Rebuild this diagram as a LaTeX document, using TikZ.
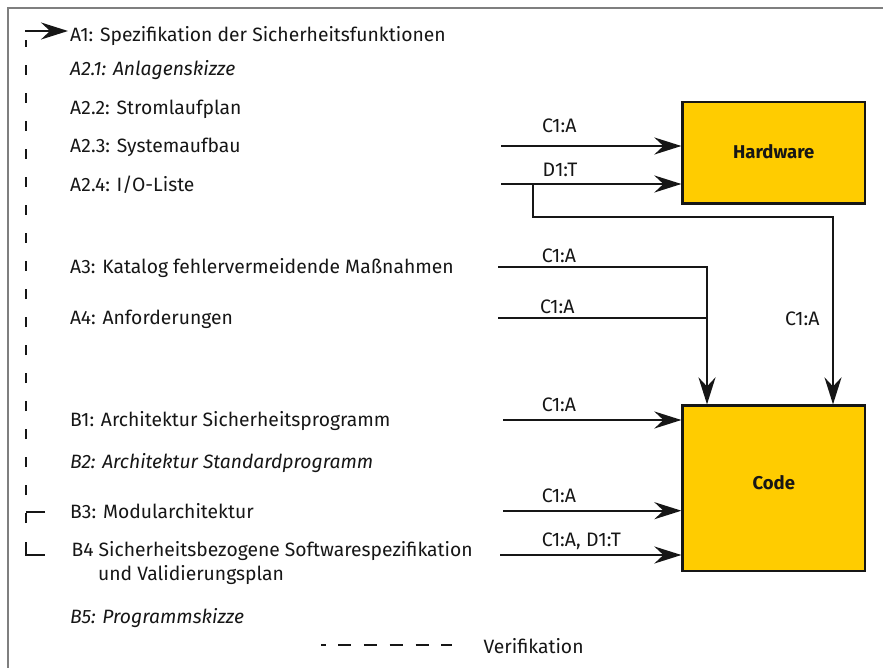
\documentclass[tikz,border=0pt]{standalone}
\usepackage{fontspec}
\setmainfont{Fira Sans}
\usetikzlibrary{arrows.meta}
\definecolor{boxfill}{HTML}{FFCC00}
\definecolor{framegray}{HTML}{7F7F7F}
\definecolor{ink}{HTML}{161616}

\begin{document}
\begin{tikzpicture}[x=1pt,y=-1pt,
  txt/.style={anchor=base west, inner sep=0pt, font=\fontsize{19.3}{22}\selectfont, text=ink},
  itxt/.style={txt, font=\fontsize{19.3}{22}\selectfont\itshape},
  lbl/.style={anchor=base west, inner sep=0pt, font=\fontsize{19.5}{22}\selectfont, text=ink},
  block/.style={draw=ink, line width=2.2pt, fill=boxfill, inner sep=0pt},
  blocklbl/.style={font=\fontsize{18.5}{22}\selectfont\bfseries, text=ink, inner sep=0pt},
  flow/.style={draw=ink, line width=2.3pt, -{Stealth[length=27pt,width=17pt,inset=9pt]}},
  wire/.style={draw=ink, line width=2.3pt},
  verif/.style={draw=ink, line width=2.8pt, dash pattern=on 10pt off 18pt},
]
\useasboundingbox (0,0) rectangle (883,668);

% open frame: left and top edges
\draw[framegray, line width=2pt] (8.3,668) -- (8.3,8.3) -- (883,8.3);

% work products
\node[txt]  (a1)  at (70,41.5)  {A1: Spezifikation der Sicherheitsfunktionen};
\node[itxt] (a21) at (70,76)    {A2.1: Anlagenskizze};
\node[txt]  (a22) at (70,115)   {A2.2: Stromlaufplan};
\node[txt]  (a23) at (70,152.5) {A2.3: Systemaufbau};
\node[txt]  (a24) at (70,191.5) {A2.4: I/O-Liste};
\node[txt]  (a3)  at (70,273.5) {A3: Katalog fehlervermeidende Maßnahmen};
\node[txt]  (a4)  at (70,324.5) {A4: Anforderungen};
\node[txt]  (b1)  at (70,426.5) {B1: Architektur Sicherheitsprogramm};
\node[itxt] (b2)  at (70,468)   {B2: Architektur Standardprogramm};
\node[txt]  (b3)  at (70,518)   {B3: Modularchitektur};
\node[txt]  (b4)  at (71.5,556.5) {B4 Sicherheitsbezogene Softwarespezifikation};
\node[txt]  (b4b) at (98,580)   {und Validierungsplan};
\node[itxt] (b5)  at (70,623)   {B5: Programmskizze};

% target blocks
\node[block, minimum width=182.5pt, minimum height=101.5pt] (hw) at (773.75,152.75) {};
\node[blocklbl] at ([yshift=1pt]hw.center) {Hardware};
\node[block, minimum width=182.5pt, minimum height=165.5pt] (code) at (773.75,488.25) {};
\node[blocklbl] at ([yshift=5.5pt]code.center) {Code};

% inputs to the hardware
\coordinate (hwA) at (501,146);
\coordinate (hwD) at (501,184);
\draw[flow] (hwA) -- (hwA -| hw.west);
\draw[flow] (hwD) -- (hwD -| hw.west);
\node[lbl] (lhwA) at (542,132.7) {C1:A};
\node[lbl] (lhwD) at (542.5,176.7) {D1:T};

% branch from the I/O list down to the code
\coordinate (br) at (533,184);
\coordinate (cR) at (833,217);
\draw[flow] (br) |- (cR) -- (cR |- code.north);
\node[lbl] (lcR) at (785,325) {C1:A};

% A3 and A4 merge into one input of the code
\coordinate (jn)  at (707,0);
\coordinate (a3s) at (498,267.3);
\coordinate (a4s) at (498,317.7);
\draw[flow] (a3s) -| (jn |- code.north);
\draw[wire] (a4s) -- (a4s -| jn);
\node[lbl] (la3) at (541.7,262.7) {C1:A};
\node[lbl] (la4) at (540,313.3) {C1:A};

% direct inputs to the code
\coordinate (b1s) at (503,420);
\coordinate (b3s) at (503,510.7);
\coordinate (b4s) at (500,555);
\draw[flow] (b1s) -- (b1s -| code.west);
\draw[flow] (b3s) -- (b3s -| code.west);
\draw[flow] (b4s) -- (b4s -| code.west);
\node[lbl] (lb1) at (541.7,411.7) {C1:A};
\node[lbl] (lb3) at (541.7,502.7) {C1:A};
\node[lbl] (lb4) at (541.7,546.7) {C1:A, D1:T};

% verification loop back to A1
\coordinate (vt)  at (26,31);
\coordinate (vb3) at (26,512);
\coordinate (vd)  at (26,523);
\coordinate (vb4) at (26,555);
\coordinate (vc4) at (26,542);
\draw[flow, shorten >=2pt] ([yshift=-1pt]vt) -- (vt) -- (vt -| a1.west);
\draw[verif] (vd) -- (26,40);
\draw[wire] (45,512) -- (vb3);
\draw[wire] (vc4) -- (vb4) -- (45,555);

% legend
\coordinate (lg0) at (321,645);
\coordinate (lg1) at (452,645);
\draw[draw=ink, line width=2.6pt, dash pattern=on 13.3pt off 12.5pt, dash phase=8.7pt] (lg0) -- (lg1);
\node[txt] (leg) at (483.5,653) {Verifikation};
\end{tikzpicture}
\end{document}
